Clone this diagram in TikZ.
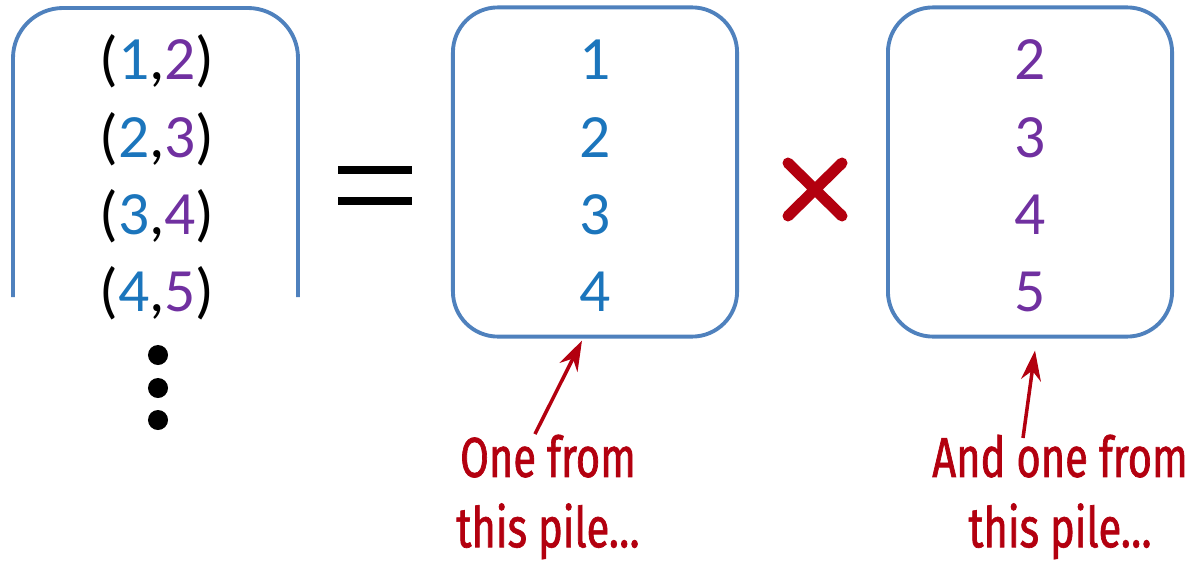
\documentclass[tikz,border=0pt]{standalone}
\usepackage{fontspec}
\setmainfont{Carlito}
\newfontfamily\handfont[FakeStretch=0.74,FakeBold=1.2]{Fira Sans}
\usetikzlibrary{arrows.meta,positioning}

\definecolor{pileblue}{HTML}{4F81BD}
\definecolor{firstblue}{HTML}{1B75BC}
\definecolor{secondpurple}{HTML}{7030A0}
\definecolor{notered}{HTML}{B3000F}

\tikzset{
  pile/.style={draw=pileblue, line width=1.1pt, rounded corners=0.45cm,
    minimum width=2.84cm, minimum height=3.29cm, inner sep=0pt},
  entry/.style={font=\fontsize{17.5}{20}\selectfont, anchor=base, inner sep=0pt},
  note/.style={font=\handfont\fontsize{16}{20}\selectfont, text=notered,
    align=center, anchor=north, inner sep=0pt},
  note arrow/.style={->, line width=1pt, notered},
}

\begin{document}
\begin{tikzpicture}[x=0.01cm, y=-0.01cm, >={Stealth[length=3mm,width=2mm]}]
  \useasboundingbox (0,0) rectangle (1195,576);

  % pairs, open at the bottom
  \draw[pileblue, line width=1.1pt, rounded corners=0.5cm] (13,297) -- (13,8) -- (298,8) -- (298,297);
  \foreach \a/\b [count=\i] in {1/2,2/3,3/4,4/5} {
    \node[entry] (p\i) at (157,{3+77*\i}) {(\textcolor{firstblue}{\a},\textcolor{secondpurple}{\b})};
  }
  \foreach \y in {355,388,420} {
    \fill (158,\y) circle (0.1cm);
  }

  \draw[line width=0.08cm] (338,170) -- (412,170) (338,201) -- (412,201);

  % the two piles
  \node[pile] (first) at (595,172) {};
  \node[pile] (second) at (1030,172) {};
  \foreach \n [count=\i] in {1,...,4} {
    \node[entry, text=firstblue] (f\i) at (595,{3+77*\i}) {\n};
  }
  \foreach \n [count=\i] in {2,...,5} {
    \node[entry, text=secondpurple] (s\i) at (1030,{3+77*\i}) {\n};
  }

  \draw[notered, line width=0.11cm, line cap=round] (788,163) -- (842,216) (842,163) -- (788,216);

  \node[note] (noteA) at (548,434) {One from\\this pile…};
  \node[note] (noteB) at (1060,434) {And one from\\this pile…};
  \draw[note arrow] ([xshift=-0.13cm]noteA.north) -- ([xshift=-0.13cm,yshift=-0.02cm]first.south);
  \draw[note arrow] ([xshift=-0.37cm,yshift=-0.04cm]noteB.north) -- ([xshift=0.05cm,yshift=-0.12cm]second.south);
\end{tikzpicture}
\end{document}
